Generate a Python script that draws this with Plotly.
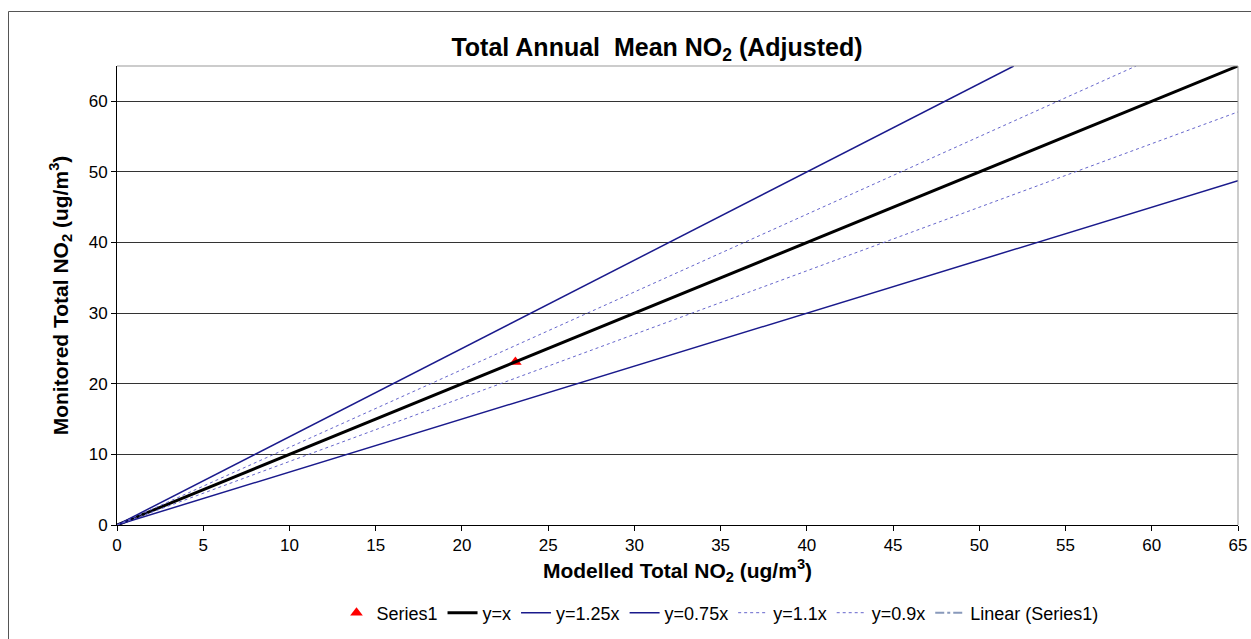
import plotly.graph_objects as go

# Data
series1_x = [23.1]
series1_y = [23.1]
line_x = [0, 65]
yx = [0, 65]
y125_x = [0, 52]
y125 = [0, 65]
y075 = [0, 48.75]
y11_x = [0, 59.09]
y11 = [0, 65]
y09 = [0, 58.5]

W, H = 1251, 639
L, R, T, B = 117, 1238, 66, 525

fig = go.Figure()
fig.add_trace(go.Scatter(x=series1_x, y=series1_y, mode="markers", name="Series1",
                         marker=dict(symbol="triangle-up", color="red", size=11)))
fig.add_trace(go.Scatter(x=line_x, y=yx, mode="lines", name="y=x",
                         line=dict(color="black", width=3)))
fig.add_trace(go.Scatter(x=y125_x, y=y125, mode="lines", name="y=1.25x",
                         line=dict(color="#1a1a8c", width=1.5)))
fig.add_trace(go.Scatter(x=line_x, y=y075, mode="lines", name="y=0.75x",
                         line=dict(color="#1a1a8c", width=1.5)))
fig.add_trace(go.Scatter(x=y11_x, y=y11, mode="lines", name="y=1.1x",
                         line=dict(color="#6666cc", width=1, dash="dot")))
fig.add_trace(go.Scatter(x=line_x, y=y09, mode="lines", name="y=0.9x",
                         line=dict(color="#6666cc", width=1, dash="dot")))
fig.add_trace(go.Scatter(x=[None], y=[None], mode="lines", name="Linear (Series1)",
                         line=dict(color="#8899bb", width=2, dash="dashdot")))

pw = R - L
ph = B - T
def px(x):
    return (x - L) / pw
def py(y):
    return (B - y) / ph

fig.update_layout(
    width=W, height=H, autosize=False,
    margin=dict(l=L, r=W - R, t=T, b=H - B, autoexpand=False),
    paper_bgcolor="white", plot_bgcolor="white",
    font=dict(family="Liberation Sans, Arial, sans-serif", color="black", size=17),
    title=dict(text="<b>Total Annual&nbsp; Mean NO<sub>2</sub> (Adjusted)</b>",
               xref="container", x=657 / W, xanchor="center",
               yref="container", y=1 - 47 / H, yanchor="middle",
               font=dict(size=25)),
    xaxis=dict(range=[0, 65], dtick=5, tick0=0, showgrid=False, zeroline=False,
               showline=True, linecolor="black", linewidth=1, automargin=False,
               ticks="outside", ticklen=5, tickcolor="black",
               tickfont=dict(size=17), ticklabeloverflow="allow",
               title=dict(text="<b>Modelled Total NO<sub>2</sub> (ug/m<sup>3</sup>)</b>",
                          font=dict(size=21), standoff=8)),
    yaxis=dict(range=[0, 65], dtick=10, tick0=0, showgrid=True, gridcolor="#333333",
               gridwidth=1, zeroline=False, automargin=False,
               showline=True, linecolor="black", linewidth=1,
               ticks="outside", ticklen=5, tickcolor="black",
               tickfont=dict(size=17),
               title=dict(text="<b>Monitored Total NO<sub>2</sub> (ug/m<sup>3</sup>)</b>",
                          font=dict(size=21), standoff=14)),
    legend=dict(orientation="h", xref="container", x=720 / W, xanchor="center",
                yref="container", y=1 - 613 / H, yanchor="middle",
                font=dict(size=18), bgcolor="rgba(0,0,0,0)"),
    showlegend=True,
    shapes=[
        dict(type="line", xref="paper", yref="paper", x0=0, x1=1, y0=1, y1=1,
             line=dict(color="#999999", width=1)),
        dict(type="line", xref="paper", yref="paper", x0=1, x1=1, y0=0, y1=1,
             line=dict(color="#999999", width=1)),
        dict(type="rect", xref="paper", yref="paper", x0=px(8.5), x1=px(W + 20),
             y0=py(H + 20), y1=py(11.5), line=dict(color="#555555", width=1),
             fillcolor="rgba(0,0,0,0)", layer="below"),
    ],
)

fig.write_html(
    "out.html",
    config={"displayModeBar": False},
    post_script="document.body.style.margin='0';document.body.style.overflow='hidden';",
)
